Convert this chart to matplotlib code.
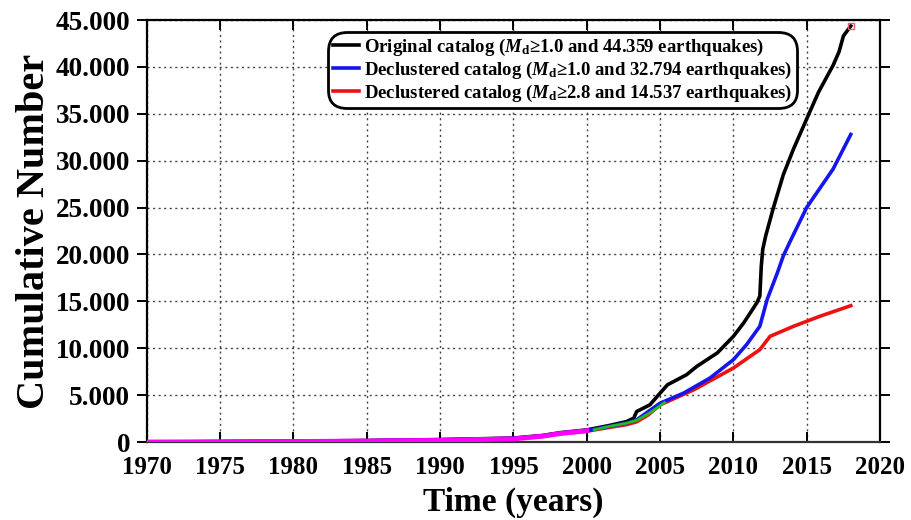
import matplotlib
matplotlib.use("Agg")
import matplotlib.pyplot as plt
from matplotlib.ticker import FuncFormatter, MultipleLocator

plt.rcParams['font.family'] = ['Liberation Serif', 'DejaVu Serif']
plt.rcParams['font.weight'] = 'bold'
plt.rcParams['mathtext.fontset'] = 'custom'
plt.rcParams['mathtext.rm'] = 'Liberation Serif:bold'
plt.rcParams['mathtext.it'] = 'Liberation Serif:italic:bold'
plt.rcParams['mathtext.bf'] = 'Liberation Serif:bold'

# Original catalog (Md>=1.0)
orig_years = [1970, 1975, 1980, 1985, 1990, 1995, 1997, 1998.2, 2000, 2001.5, 2002.7, 2003.2,
              2003.4, 2004.3, 2005, 2005.5, 2006.8, 2007.5, 2008.9, 2010, 2010.7, 2011.6,
              2011.8, 2011.9, 2012.0, 2012.2, 2012.7, 2013.4, 2014.1, 2015.0, 2015.8,
              2016.8, 2017.2, 2017.5, 2018.0]
orig_vals = [0, 40, 90, 160, 260, 420, 700, 1000, 1290, 1750, 2170, 2540,
             3250, 3960, 5210, 6100, 7170, 8060, 9500, 11270, 12700, 14850,
             15560, 18770, 20560, 21980, 24840, 28500, 31260, 34470, 37300,
             40180, 41610, 43300, 44359]

# Declustered catalog (Md>=1.0)
decl1_years = [1970, 1975, 1980, 1985, 1990, 1995, 1997, 1998.2, 2000, 2001.5, 2002.7, 2003.4,
               2005, 2006.6, 2008.4, 2010, 2010.9, 2011.8, 2012.3, 2013.0, 2013.4, 2013.9,
               2015.0, 2016.8, 2017.5, 2018.0]
decl1_vals = [0, 35, 80, 140, 230, 390, 650, 950, 1220, 1650, 2000, 2360,
              4140, 5210, 6820, 8780, 10390, 12340, 15200, 18060, 19840, 21500,
              25020, 29120, 31260, 32794]

# Declustered catalog (Md>=2.8)
decl2_years = [1970, 1975, 1980, 1985, 1990, 1995, 1997, 1998.2, 2000, 2001.5, 2002.7, 2003.4,
               2004.2, 2005, 2007.3, 2010, 2011.8, 2012.5, 2014.1, 2015.9, 2018.0]
decl2_vals = [0, 30, 70, 120, 200, 340, 600, 900, 1150, 1550, 1850, 2150,
              2900, 3960, 5570, 7890, 9850, 11270, 12340, 13410, 14537]

# Additional segments seen in the picture
green_years = [2000.5, 2001.5, 2002.7, 2003.4, 2004.3, 2005.3]
green_vals = [1300, 1650, 2000, 2300, 3100, 4200]
magenta_years = [1970, 1975, 1980, 1985, 1990, 1995, 1997, 1998.2, 2000]
magenta_vals = [0, 20, 50, 100, 180, 330, 620, 900, 1200]

legend_labels = [
    r"Original catalog ($\mathit{M}_{\mathrm{d}}$≥1.0 and 44.359 earthquakes)",
    r"Declustered catalog ($\mathit{M}_{\mathrm{d}}$≥1.0 and 32.794 earthquakes)",
    r"Declustered catalog ($\mathit{M}_{\mathrm{d}}$≥2.8 and 14.537 earthquakes)",
]

fig = plt.figure(figsize=(9.12, 5.2), dpi=100)
ax = fig.add_axes([0.161, 0.15, 0.804, 0.8115])

ax.plot(decl2_years, decl2_vals, color='#ee1111', lw=2.6, label=legend_labels[2], zorder=3)
ax.plot(decl1_years, decl1_vals, color='#1515ee', lw=2.6, label=legend_labels[1], zorder=4)
ax.plot(orig_years, orig_vals, color='black', lw=2.6, label=legend_labels[0], zorder=2)
ax.plot(green_years, green_vals, color='#22bb22', lw=2.0, zorder=5)
ax.plot(magenta_years, magenta_vals, color='#ff00ff', lw=3.5, zorder=6)
ax.plot([orig_years[-1]], [orig_vals[-1]], marker='s', ms=4, mfc='none', mec='#e06070', zorder=7)

ax.set_xlim(1970, 2020)
ax.set_ylim(0, 45000)
ax.xaxis.set_major_locator(MultipleLocator(5))
ax.yaxis.set_major_locator(MultipleLocator(5000))
ax.yaxis.set_major_formatter(FuncFormatter(lambda v, p: '0' if v == 0 else f"{int(v):,}".replace(',', '.')))

ax.grid(True, linestyle=(0, (1.5, 2.5)), color='#444444', lw=1.0)
ax.set_axisbelow(True)

for s in ax.spines.values():
    s.set_linewidth(1.6)
    s.set_color('black')
ax.spines['bottom'].set_color('#333333')

ax.tick_params(axis='x', direction='in', length=7, width=1.4, labelsize=18, pad=10, top=True)
ax.tick_params(axis='y', direction='out', length=7, width=1.4, labelsize=19.5, pad=5, right=True)
for lab in ax.get_xticklabels() + ax.get_yticklabels():
    lab.set_fontweight('bold')

ax.set_xlabel('Time (years)', fontsize=24, fontweight='bold', labelpad=6)
ax.set_ylabel('Cumulative Number', fontsize=29, fontweight='bold', labelpad=2)

handles, labels = ax.get_legend_handles_labels()
order = [2, 1, 0]
leg = ax.legend([handles[i] for i in order], [labels[i] for i in order],
                loc='upper left', bbox_to_anchor=(0.252, 0.963),
                handlelength=1.4, handletextpad=0.3, borderpad=0.05, labelspacing=0.1,
                borderaxespad=0.0,
                fancybox=True, framealpha=1, edgecolor='black', prop={'weight': 'bold', 'size': 13.5})
leg.get_frame().set_linewidth(2.0)
leg.get_frame().set_boxstyle('round', pad=0.2, rounding_size=1.0)

fig.savefig('out.png', dpi=100)
